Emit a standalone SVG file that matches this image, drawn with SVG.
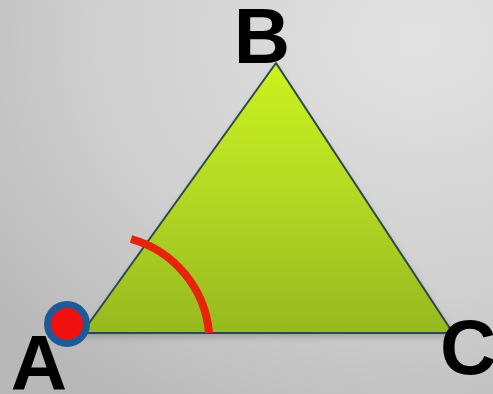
<svg xmlns="http://www.w3.org/2000/svg" width="493" height="394" viewBox="0 0 493 394">
  <defs>
    <radialGradient id="bg" cx="0.85" cy="0.1" r="1.1">
      <stop offset="0" stop-color="#e2e2e2"/>
      <stop offset="0.6" stop-color="#cfcfcf"/>
      <stop offset="1" stop-color="#b8b8b8"/>
    </radialGradient>
    <linearGradient id="tri" x1="0" y1="0" x2="0" y2="1">
      <stop offset="0" stop-color="#ccf21e"/>
      <stop offset="0.5" stop-color="#b2d824"/>
      <stop offset="1" stop-color="#97b91f"/>
    </linearGradient>
    <filter id="sh" x="-10%" y="-10%" width="120%" height="130%">
      <feGaussianBlur stdDeviation="3"/>
    </filter>
    <style>
      .lbl { font-family: "Liberation Sans", Arial, sans-serif; font-weight: bold; font-size: 78px; fill: #000; }
    </style>
  </defs>
  <rect width="493" height="394" fill="url(#bg)"/>
  <g id="triangle">
    <polygon points="82,337 276,67 455,337" fill="#555" opacity="0.35" filter="url(#sh)"/>
    <polygon points="82,333 276,63 453,333" fill="url(#tri)" stroke="#2b4a4a" stroke-width="2" stroke-linejoin="round"/>
  </g>
  <g id="angle-arc">
    <path d="M131,239 A107,107 0 0 1 209,333" fill="none" stroke="#e8220c" stroke-width="8" stroke-linecap="butt"/>
  </g>
  <g id="point-A">
    <circle cx="67" cy="324" r="19.5" fill="#f01010" stroke="#1f5a96" stroke-width="7"/>
  </g>
  <g id="labels">
    <text class="lbl" x="39" y="390" text-anchor="middle">A</text>
    <text class="lbl" x="262" y="63" text-anchor="middle">B</text>
    <text class="lbl" x="440" y="374">C</text>
  </g>
</svg>
